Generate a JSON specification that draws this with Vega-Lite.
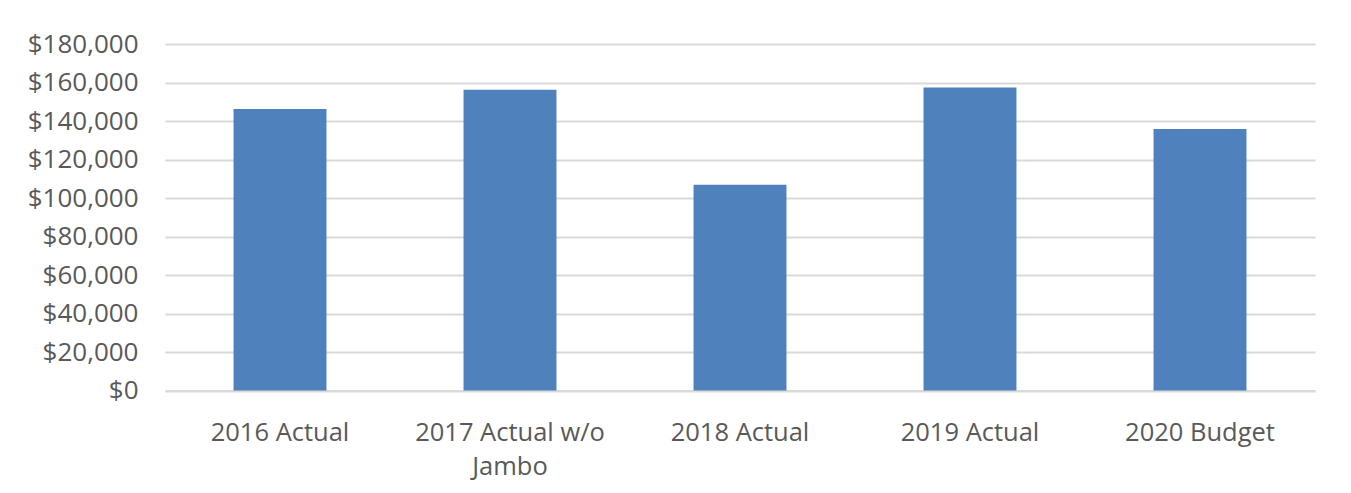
{
  "$schema": "https://vega.github.io/schema/vega-lite/v6.json",
  "width": 1150,
  "height": 346.5,
  "autosize": {"type": "none"},
  "padding": {"left": 165, "top": 44, "right": 36, "bottom": 102.5},
  "background": "white",
  "data": {
    "values": [
      {"category": "2016 Actual", "value": 146200},
      {"category": "2017 Actual w/o Jambo", "value": 156200},
      {"category": "2018 Actual", "value": 106900},
      {"category": "2019 Actual", "value": 157400},
      {"category": "2020 Budget", "value": 135900}
    ]
  },
  "mark": {"type": "bar", "color": "#4f81bd"},
  "encoding": {
    "x": {
      "field": "category",
      "type": "nominal",
      "sort": null,
      "scale": {"paddingInner": 0.596, "paddingOuter": 0.298},
      "axis": {
        "title": null,
        "labelAngle": 0,
        "labelFont": "Open Sans",
        "labelFontSize": 25.5,
        "labelColor": "#595959",
        "labelPadding": 30,
        "labelLineHeight": 34,
        "labelLimit": 0,
        "labelExpr": "datum.label == '2017 Actual w/o Jambo' ? ['2017 Actual w/o', 'Jambo'] : datum.label",
        "ticks": false,
        "domainColor": "#d9d9d9",
        "domainWidth": 2,
        "grid": false
      }
    },
    "y": {
      "field": "value",
      "type": "quantitative",
      "scale": {"domain": [0, 180000]},
      "axis": {
        "title": null,
        "values": [0, 20000, 40000, 60000, 80000, 100000, 120000, 140000, 160000, 180000],
        "format": "$,.0f",
        "labelFont": "Open Sans",
        "labelFontSize": 26,
        "labelColor": "#595959",
        "labelPadding": 27,
        "ticks": false,
        "domain": false,
        "grid": true,
        "gridColor": "#d9d9d9",
        "gridWidth": 2
      }
    }
  },
  "config": {"view": {"stroke": null}}
}
